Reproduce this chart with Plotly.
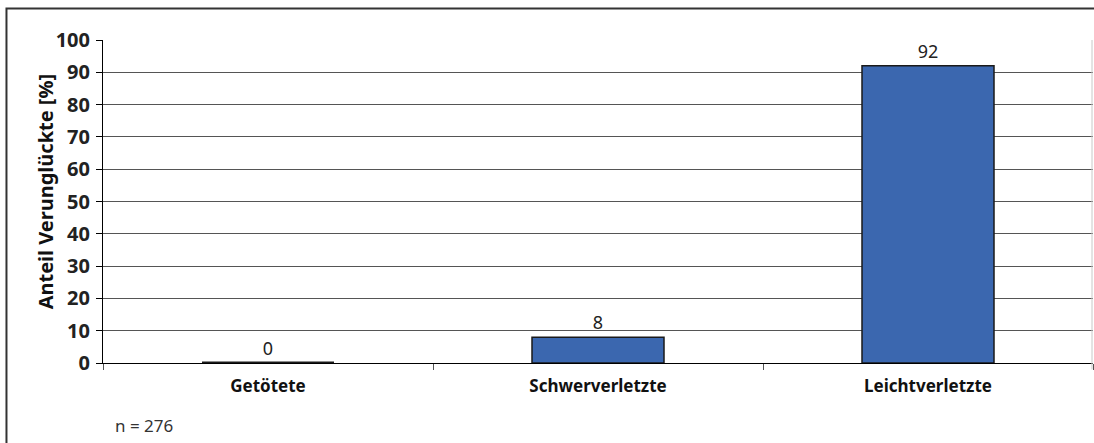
import plotly.graph_objects as go

# Anteil der Verunglückten nach Verletzungsschwere
categories = ["Getötete", "Schwerverletzte", "Leichtverletzte"]
values = [0, 8, 92]
y_ticks = [0, 10, 20, 30, 40, 50, 60, 70, 80, 90, 100]
sample_note = "n = 276"

FONT = "Noto Sans, Open Sans, sans-serif"

fig = go.Figure(
    go.Bar(
        x=categories,
        y=values,
        width=0.4,
        marker=dict(color="#3B67AF", line=dict(color="#1A1A1A", width=[3, 1.5, 1.5])),
        text=[str(v) for v in values],
        textposition="outside",
        textfont=dict(family=FONT, size=18, color="#222222"),
        cliponaxis=False,
    )
)

fig.update_layout(
    width=1094,
    height=443,
    margin=dict(l=103, r=1, t=40, b=80),
    paper_bgcolor="white",
    plot_bgcolor="white",
    showlegend=False,
    bargap=0.6,
    font=dict(family=FONT, color="#111111"),
)

fig.update_xaxes(
    type="category",
    showgrid=False,
    showline=True,
    linecolor="#000000",
    linewidth=1,
    ticks="outside",
    tickson="boundaries",
    ticklen=6,
    tickcolor="#555555",
    ticklabelstandoff=8,
    tickfont=dict(family=FONT, size=17, color="#111111", weight="bold"),
)

fig.update_yaxes(
    range=[0, 100],
    tickvals=y_ticks,
    showgrid=True,
    gridcolor="#555555",
    gridwidth=1,
    showline=True,
    linecolor="#000000",
    linewidth=1,
    ticks="outside",
    ticklen=6,
    tickcolor="#000000",
    zeroline=True,
    zerolinecolor="#000000",
    zerolinewidth=1,
    ticklabelstandoff=2,
    tickfont=dict(family=FONT, size=20, color="#222222", weight="bold"),
)

fig.add_annotation(
    text="Anteil Verunglückte [%]",
    xref="paper", yref="paper",
    x=-0.0737, y=0.53,
    textangle=-90,
    showarrow=False,
    font=dict(family=FONT, size=20, color="#111111", weight="bold"),
)

fig.add_annotation(
    text=sample_note,
    xref="paper", yref="paper",
    x=0.0101, y=-0.192,
    xanchor="left", yanchor="middle",
    showarrow=False,
    font=dict(family=FONT, size=17, color="#333333"),
)

# light border on the right edge of the plot area
fig.add_shape(
    type="line",
    xref="paper", yref="paper",
    x0=0.999, x1=0.999, y0=-0.02, y1=1,
    line=dict(color="#C8C8C8", width=1),
)

# outer frame around the chart
fig.add_shape(
    type="rect",
    xref="paper", yref="paper",
    x0=-0.0975, x1=1.02, y0=-0.3, y1=1.0975,
    line=dict(color="#333333", width=2),
    fillcolor="rgba(0,0,0,0)",
    layer="below",
)

fig.write_html("out.html")
